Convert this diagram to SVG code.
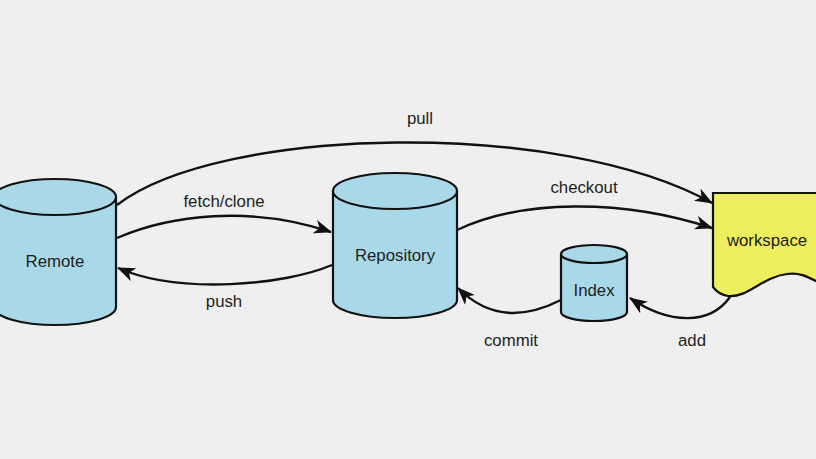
<svg xmlns="http://www.w3.org/2000/svg" width="816" height="459" viewBox="0 0 816 459">
<defs>
<style>
.cyl{fill:#a9d9e8;stroke:#111;stroke-width:2.2}
.ws{fill:#eded5e;stroke:#111;stroke-width:2.2}
.edge{fill:none;stroke:#111;stroke-width:2.4}
text{font-family:"Liberation Sans",Arial,sans-serif;font-size:16.8px;fill:#1e1e1e;text-anchor:middle}
</style>
<marker id="arr" viewBox="0 0 18 14" refX="17" refY="7" markerWidth="18" markerHeight="14" markerUnits="userSpaceOnUse" orient="auto">
<path d="M0,0 L18,7 L0,14 L5,7 Z" fill="#111"/>
</marker>
</defs>
<rect width="816" height="459" fill="#efefef"/>
<g id="remote">
<path class="cyl" d="M-6,197 L-6,307 A61,18 0 0 0 116,307 L116,197"/>
<ellipse class="cyl" cx="55" cy="197" rx="61" ry="18"/>
<text x="55" y="267">Remote</text>
</g>
<g id="repository">
<path class="cyl" d="M333,191 L333,300 A62,18 0 0 0 457,300 L457,191"/>
<ellipse class="cyl" cx="395" cy="191" rx="62" ry="18"/>
<text x="395" y="261">Repository</text>
</g>
<g id="index">
<path class="cyl" d="M561,254 L561,312 A33,9 0 0 0 627,312 L627,254"/>
<ellipse class="cyl" cx="594" cy="254" rx="33" ry="9"/>
<text x="594" y="296">Index</text>
</g>
<g id="workspace">
<path class="ws" d="M713,193 L822,193 L822,284 C808,277 800,272 787,274 C762,277 748,298 728,296 C721,295 716,291 713,287 Z"/>
<text x="767" y="246">workspace</text>
</g>
<g id="connectors">
<path class="edge" marker-end="url(#arr)" d="M117,205 C220,126 560,118 712,203"/>
<path class="edge" marker-end="url(#arr)" d="M117,238 C170,215 250,205 331,232"/>
<path class="edge" marker-end="url(#arr)" d="M332,265 C285,285 180,295 118,268"/>
<path class="edge" marker-end="url(#arr)" d="M457,230 C520,200 620,198 712,228"/>
<path class="edge" marker-end="url(#arr)" d="M561,300 C525,318 490,320 458,288"/>
<path class="edge" marker-end="url(#arr)" d="M730,297 C710,325 670,325 630,298"/>
</g>
<g id="labels">
<text x="420" y="124">pull</text>
<text x="224" y="207">fetch/clone</text>
<text x="224" y="307">push</text>
<text x="584" y="193">checkout</text>
<text x="511" y="346">commit</text>
<text x="692" y="346">add</text>
</g>
</svg>
